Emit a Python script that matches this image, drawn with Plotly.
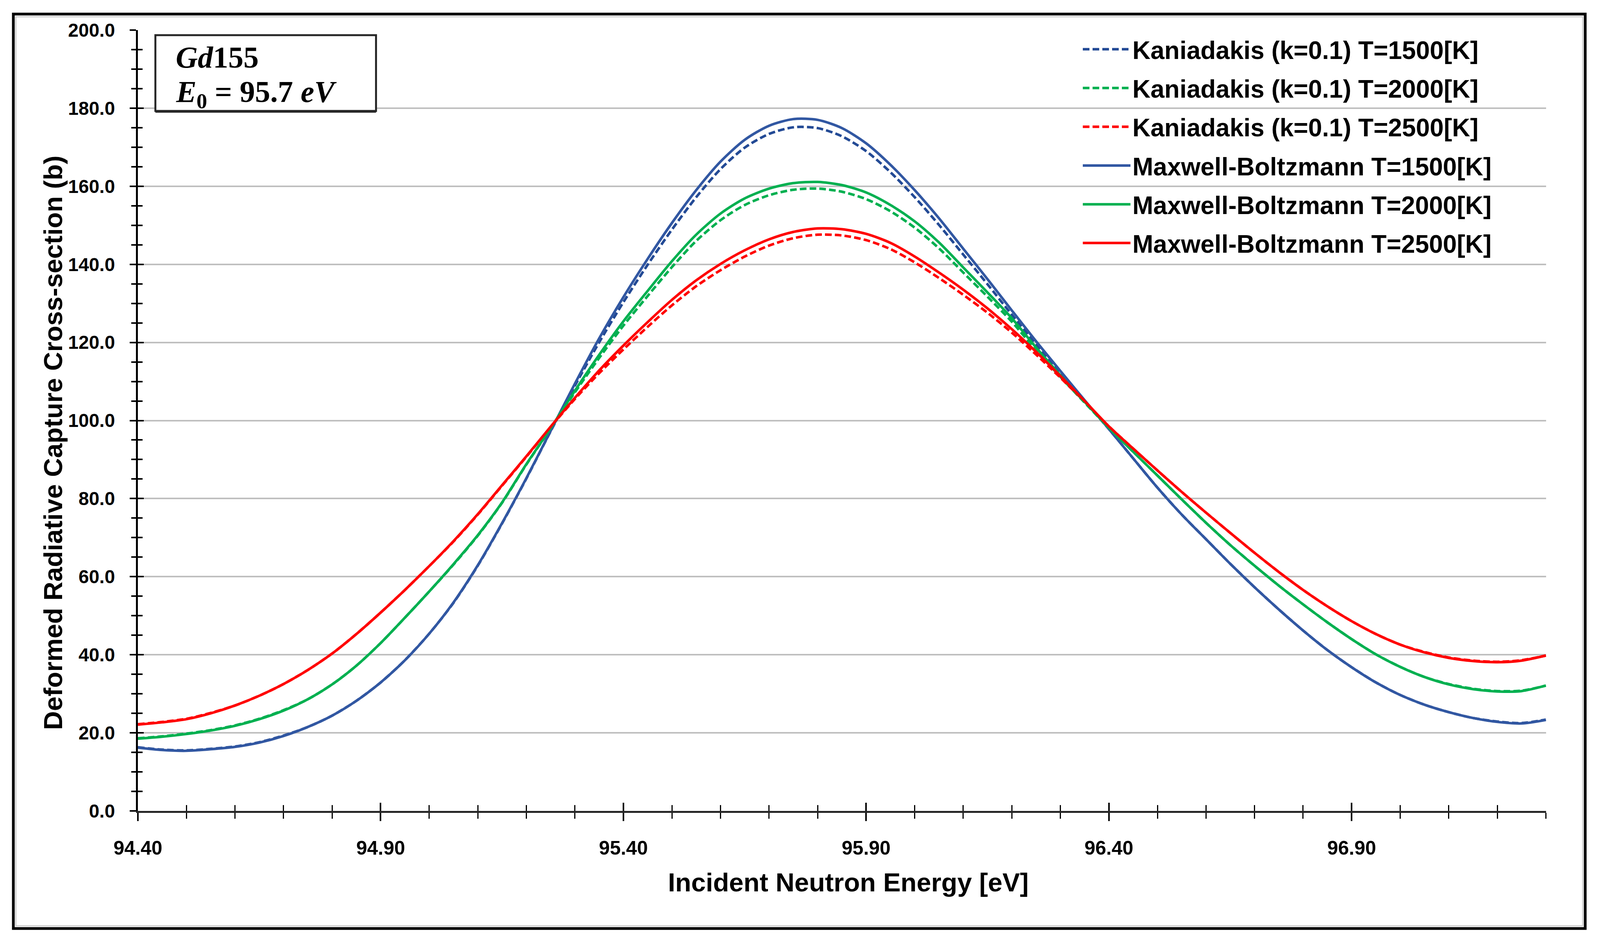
import plotly.graph_objects as go

# ---------------- data ----------------
energy = [94.40, 94.45, 94.50, 94.55, 94.60, 94.65, 94.70, 94.75, 94.80, 94.85,
          94.90, 94.95, 95.00, 95.05, 95.10, 95.15, 95.20, 95.25, 95.30, 95.35,
          95.40, 95.45, 95.50, 95.55, 95.60, 95.65, 95.70, 95.75, 95.80, 95.85,
          95.90, 95.95, 96.00, 96.05, 96.10, 96.15, 96.20, 96.25, 96.30, 96.35,
          96.40, 96.45, 96.50, 96.55, 96.60, 96.65, 96.70, 96.75, 96.80, 96.85,
          96.90, 96.95, 97.00, 97.05, 97.10, 97.15, 97.20, 97.25, 97.30]

mb_1500 = [16.2, 15.6, 15.4, 15.8, 16.4, 17.5, 19.2, 21.5, 24.4, 28.2,
           32.9, 38.6, 45.4, 53.4, 62.9, 73.7, 85.2, 97.3, 109.4, 121.0,
           131.6, 141.4, 150.6, 159.0, 166.3, 171.9, 175.5, 177.2, 177.0, 174.9,
           171.0, 165.5, 159.0, 151.8, 144.0, 136.2, 128.2, 120.3, 112.7, 105.2,
           97.8, 90.3, 82.8, 75.9, 69.6, 63.3, 57.3, 51.6, 46.2, 41.2,
           36.8, 32.9, 29.7, 27.2, 25.3, 23.8, 22.8, 22.4, 23.3]

mb_2000 = [18.5, 19.0, 19.7, 20.6, 21.8, 23.5, 25.7, 28.6, 32.4, 37.2,
           43.0, 49.5, 56.2, 63.2, 70.6, 79.0, 88.8, 98.0, 107.6, 116.8,
           125.4, 133.2, 140.8, 147.6, 153.0, 156.9, 159.4, 160.8, 161.1, 160.3,
           158.4, 155.2, 151.0, 145.6, 139.2, 132.8, 126.2, 118.7, 111.6, 104.8,
           98.1, 92.0, 85.9, 79.8, 73.8, 68.1, 62.8, 57.7, 52.9, 48.3,
           44.0, 40.1, 36.9, 34.3, 32.4, 31.2, 30.6, 30.7, 32.1]

mb_2500 = [22.1, 22.7, 23.5, 25.0, 27.0, 29.5, 32.5, 36.1, 40.3, 45.3,
           50.8, 56.6, 62.7, 69.1, 76.0, 83.4, 90.8, 98.4, 105.8, 112.8,
           119.2, 125.2, 130.9, 135.9, 140.1, 143.6, 146.4, 148.3, 149.2, 149.0,
           147.8, 145.5, 142.0, 137.9, 133.5, 128.7, 123.4, 117.6, 111.4, 105.0,
           98.5, 92.8, 87.2, 81.7, 76.4, 71.2, 66.1, 61.2, 56.6, 52.4,
           48.6, 45.3, 42.6, 40.6, 39.2, 38.4, 38.1, 38.5, 39.8]

k_1500 = [16.3, 15.7, 15.5, 15.9, 16.5, 17.6, 19.3, 21.5, 24.4, 28.2,
          32.9, 38.6, 45.4, 53.3, 62.8, 73.6, 85.1, 97.2, 108.9, 120.0,
          130.3, 139.9, 148.9, 157.2, 164.4, 169.9, 173.4, 175.1, 174.9, 172.8,
          169.0, 163.6, 157.2, 150.1, 142.5, 134.9, 127.1, 119.5, 112.2, 105.0,
          97.8, 90.3, 82.8, 75.9, 69.6, 63.3, 57.3, 51.6, 46.2, 41.2,
          36.8, 32.9, 29.7, 27.2, 25.3, 23.8, 22.9, 22.5, 23.4]

k_2000 = [18.6, 19.1, 19.8, 20.7, 21.9, 23.6, 25.8, 28.6, 32.4, 37.2,
          43.0, 49.5, 56.2, 63.1, 70.5, 78.9, 88.7, 97.9, 107.2, 116.0,
          124.3, 131.9, 139.3, 146.0, 151.3, 155.2, 157.7, 159.1, 159.4, 158.6,
          156.7, 153.6, 149.4, 144.1, 137.9, 131.7, 125.3, 118.0, 111.2, 104.6,
          98.1, 92.0, 85.9, 79.8, 73.8, 68.1, 62.8, 57.7, 52.9, 48.3,
          44.0, 40.1, 36.9, 34.3, 32.5, 31.3, 30.7, 30.8, 32.1]

k_2500 = [22.2, 22.8, 23.6, 25.1, 27.0, 29.5, 32.5, 36.1, 40.3, 45.3,
          50.8, 56.6, 62.7, 69.0, 75.9, 83.3, 90.7, 98.3, 105.5, 112.1,
          118.2, 124.0, 129.5, 134.4, 138.5, 142.0, 144.8, 146.7, 147.6, 147.4,
          146.2, 143.9, 140.5, 136.5, 132.2, 127.6, 122.5, 116.9, 111.0, 104.8,
          98.5, 92.8, 87.2, 81.7, 76.4, 71.2, 66.1, 61.2, 56.6, 52.4,
          48.6, 45.3, 42.6, 40.7, 39.3, 38.5, 38.2, 38.6, 39.8]

series_names = ["Kaniadakis (k=0.1) T=1500[K]", "Kaniadakis (k=0.1) T=2000[K]",
                "Kaniadakis (k=0.1) T=2500[K]", "Maxwell-Boltzmann T=1500[K]",
                "Maxwell-Boltzmann T=2000[K]", "Maxwell-Boltzmann T=2500[K]"]

x_major_ticks = [94.40, 94.90, 95.40, 95.90, 96.40, 96.90]
x_tick_text = ["94.40", "94.90", "95.40", "95.90", "96.40", "96.90"]
y_major_ticks = [0, 20, 40, 60, 80, 100, 120, 140, 160, 180, 200]
y_tick_text = ["0.0", "20.0", "40.0", "60.0", "80.0", "100.0", "120.0",
               "140.0", "160.0", "180.0", "200.0"]

# ---------------- layout geometry ----------------
# The capture is about 4096 px wide; horizontal reference positions are scaled.
CAP_W = 4096
REF_W = 4438
S = CAP_W / REF_W
OFF = 8                      # page margin
W, H = CAP_W - 2 * OFF, 2409 - 2 * OFF


def fx(xr):                  # reference x  -> figure px
    return xr * S - OFF


def fy(yr):                  # reference y  -> figure px
    return yr - OFF


ML = round(fx(383))
MR = round(W - fx(4288))
MT = round(fy(77))
MB = round(H - fy(2076))
pw, ph = W - ML - MR, H - MT - MB


def px(xr):
    return (fx(xr) - ML) / pw


def py(yr):
    return (H - MB - fy(yr)) / ph


FONT = "Liberation Sans, Arial, sans-serif"
SERIF = "Liberation Serif, DejaVu Serif, serif"
BLUE_S, BLUE_D = "#3157A2", "#234A95"
GREEN = "#00B050"
RED = "#FF0000"
LW = 6.5
DASH = "17px,8px"

fig = go.Figure()

series = [
    (series_names[0], k_1500, BLUE_D, DASH),
    (series_names[1], k_2000, GREEN, DASH),
    (series_names[2], k_2500, RED, DASH),
    (series_names[3], mb_1500, BLUE_S, "solid"),
    (series_names[4], mb_2000, GREEN, "solid"),
    (series_names[5], mb_2500, RED, "solid"),
]
for i, (name, vals, col, dash) in enumerate(series):
    fig.add_trace(go.Scatter(
        x=energy, y=vals, name=name, mode="lines",
        line=dict(color=col, width=LW, dash=dash, shape="spline", smoothing=0.8),
        legendgroup=f"g{i}",
    ))

# invisible helper trace so the overlaid (inside-tick) axes are drawn
fig.add_trace(go.Scatter(x=[energy[0]], y=[mb_1500[0]], xaxis="x2", yaxis="y2",
                         mode="markers", marker=dict(opacity=0), showlegend=False,
                         hoverinfo="skip"))

xr = [94.40, 97.3005]
yr = [0, 200]

fig.update_layout(
    width=W, height=H,
    margin=dict(l=ML, r=MR, t=MT, b=MB, autoexpand=False),
    paper_bgcolor="white", plot_bgcolor="white",
    font=dict(family=FONT, color="black"),
    showlegend=True,
    legend=dict(
        x=px(2998), y=py(78), xanchor="left", yanchor="top",
        bgcolor="rgba(0,0,0,0)", borderwidth=0,
        font=dict(family=FONT, size=64, color="black", weight="bold"),
        itemwidth=int(133 * S), tracegroupgap=13, traceorder="grouped",
    ),
    xaxis=dict(
        range=xr, showgrid=False, zeroline=False,
        tickvals=x_major_ticks, ticktext=x_tick_text,
        ticks="outside", ticklen=21, tickwidth=3.5, tickcolor="black",
        minor=dict(ticks="outside", ticklen=15, tickwidth=3, tickcolor="black",
                   tick0=94.40, dtick=0.1, showgrid=False),
        showline=True, linecolor="#262626", linewidth=5,
        tickfont=dict(family=FONT, size=50, color="black", weight="bold"),
        ticklabelstandoff=26,
    ),
    yaxis=dict(
        range=yr, showgrid=True, gridcolor="#BFBFBF", gridwidth=4, zeroline=False,
        tickvals=y_major_ticks, ticktext=y_tick_text,
        ticks="outside", ticklen=16, tickwidth=4, tickcolor="black",
        minor=dict(ticks="outside", ticklen=12, tickwidth=4, tickcolor="black",
                   tick0=0, dtick=5, showgrid=False),
        showline=True, linecolor="black", linewidth=5,
        tickfont=dict(family=FONT, size=48, color="black", weight="bold"),
        ticklabelstandoff=28,
    ),
    xaxis2=dict(
        range=xr, overlaying="x", anchor="y2", side="bottom", showgrid=False,
        zeroline=False, tickvals=x_major_ticks, showticklabels=False,
        ticks="inside", ticklen=21, tickwidth=3.5, tickcolor="black",
        minor=dict(ticks="inside", ticklen=15, tickwidth=3, tickcolor="black",
                   tick0=94.40, dtick=0.1, showgrid=False),
        showline=False,
    ),
    yaxis2=dict(
        range=yr, overlaying="y", anchor="x2", side="left", showgrid=False,
        zeroline=False, tickvals=y_major_ticks, showticklabels=False,
        ticks="inside", ticklen=15, tickwidth=4, tickcolor="black",
        minor=dict(ticks="inside", ticklen=12, tickwidth=4, tickcolor="black",
                   tick0=0, dtick=5, showgrid=False),
        showline=False,
    ),
)

shapes = [
    # outer chart border
    dict(type="rect", xref="paper", yref="paper",
         x0=px(37), x1=px(4397), y0=py(2377), y1=py(36),
         line=dict(color="black", width=7), fillcolor="rgba(0,0,0,0)", layer="above"),
    dict(type="rect", xref="paper", yref="paper",
         x0=px(44), x1=px(4390), y0=py(2370), y1=py(43),
         line=dict(color="#D0D0D0", width=3), fillcolor="rgba(0,0,0,0)", layer="above"),
    # info box
    dict(type="rect", xref="paper", yref="paper",
         x0=px(431), x1=px(1043), y0=py(284), y1=py(90),
         line=dict(color="#262626", width=5), fillcolor="white", layer="above"),
    dict(type="line", xref="paper", yref="paper",
         x0=px(431), x1=px(1043), y0=py(286), y1=py(286),
         line=dict(color="#262626", width=5), layer="above"),
]
fig.update_layout(shapes=shapes)

annotations = [
    dict(text="<b><i>Gd</i>155</b>", xref="paper", yref="paper",
         x=px(485), y=py(146), xanchor="left", yanchor="middle", showarrow=False,
         font=dict(family=SERIF, size=78, color="black")),
    dict(text="<b><i>E</i><sub>0</sub> = 95.7 <i>eV</i></b>", xref="paper", yref="paper",
         x=px(485), y=py(240), xanchor="left", yanchor="middle", showarrow=False,
         font=dict(family=SERIF, size=78, color="black")),
    dict(text="<b>Incident Neutron Energy [eV]</b>", xref="paper", yref="paper",
         x=px(2353), y=py(2258), xanchor="center", yanchor="middle", showarrow=False,
         font=dict(family=FONT, size=67, color="black")),
    dict(text="<b>Deformed Radiative Capture Cross-section (b)</b>", xref="paper",
         yref="paper", x=px(146), y=py(1133), xanchor="center", yanchor="middle",
         textangle=-90, showarrow=False,
         font=dict(family=FONT, size=67, color="black")),
]
fig.update_layout(annotations=annotations)

fig.write_html("out.html")
